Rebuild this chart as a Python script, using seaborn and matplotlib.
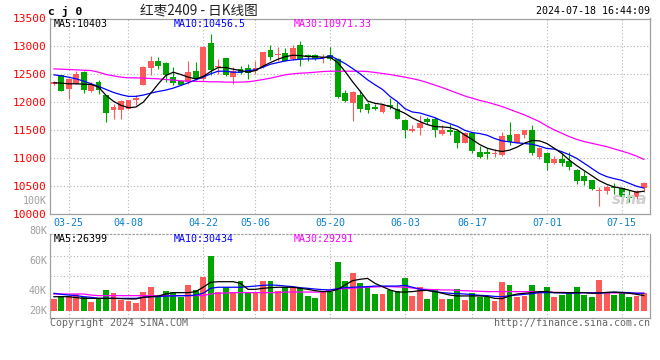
import matplotlib
matplotlib.use("Agg")
import matplotlib.pyplot as plt
import seaborn as sns
import numpy as np
import pandas as pd

# trading days 2024-03-21 .. 2024-07-18 (exchange holidays removed)
holidays = ['2024-04-04', '2024-04-05', '2024-05-01', '2024-05-02', '2024-05-03', '2024-06-10']
dates = [d for d in pd.bdate_range('2024-03-21', '2024-07-18') if d.strftime('%Y-%m-%d') not in holidays]
day_labels = [d.strftime('%m-%d') for d in dates]
tick_labels = ['03-25', '04-08', '04-22', '05-06', '05-20', '06-03', '06-17', '07-01', '07-15']

opens = np.array([12316, 12477, 12240, 12330, 12536, 12197, 12358, 12120, 11864, 11864,
                  11882, 12030, 12310, 12614, 12745, 12703, 12447, 12376, 12358, 12566,
                  12417, 13054, 12626, 12786, 12447, 12596, 12608, 12566, 12626, 12935,
                  12846, 12876, 12775, 13030, 12846, 12846, 12790, 12852, 12775, 12161,
                  11983, 12120, 11971, 11912, 11822, 11953, 11882, 11673, 11483, 11543,
                  11691, 11703, 11435, 11494, 11476, 11268, 11453, 11107, 11107, 11066,
                  11048, 11405, 11268, 11405, 11494, 11018, 11078, 10900, 10971, 10947,
                  10781, 10674, 10602, 10406, 10412, 10471, 10453, 10305, 10293, 10453])
closes = np.array([12358, 12197, 12417, 12507, 12221, 12328, 12209, 11804, 11911, 12013,
                   12030, 12072, 12638, 12745, 12644, 12477, 12340, 12310, 12548, 12417,
                   12995, 12578, 12655, 12477, 12566, 12525, 12525, 12608, 12894, 12804,
                   12864, 12745, 12971, 12775, 12804, 12775, 12810, 12775, 12090, 12013,
                   12179, 11882, 11852, 11870, 11941, 11912, 11691, 11507, 11513, 11626,
                   11644, 11495, 11494, 11465, 11268, 11447, 11125, 11018, 11060, 11090,
                   11387, 11286, 11423, 11494, 11090, 11167, 10899, 10971, 10900, 10828,
                   10590, 10590, 10442, 10424, 10483, 10453, 10305, 10275, 10406, 10543])
highs = np.array([12385, 12490, 12430, 12560, 12566, 12358, 12388, 12130, 11971, 12030,
                  12040, 12120, 12650, 12834, 12816, 12715, 12638, 12390, 12745, 12715,
                  13010, 13221, 12775, 12800, 12626, 12640, 12685, 12745, 12905, 13030,
                  12983, 12971, 13030, 13102, 12860, 12860, 12870, 12983, 12790, 12220,
                  12190, 12209, 12001, 11971, 11971, 12078, 12000, 11690, 11585, 11763,
                  11733, 11733, 11584, 11600, 11482, 11460, 11465, 11208, 11167, 11149,
                  11465, 11643, 11435, 11500, 11584, 11197, 11108, 11030, 11090, 11108,
                  10793, 10769, 10602, 10471, 10513, 10554, 10465, 10424, 10424, 10572])
lows = np.array([12300, 12190, 12050, 12320, 12161, 12180, 12138, 11644, 11703, 11703,
                 11870, 11941, 12300, 12477, 12596, 12358, 12298, 12300, 12328, 12400,
                 12405, 12477, 12507, 12465, 12316, 12500, 12417, 12507, 12615, 12757,
                 12745, 12735, 12757, 12655, 12745, 12760, 12700, 12757, 12080, 12001,
                 11661, 11822, 11805, 11852, 11805, 11882, 11691, 11358, 11465, 11406,
                 11614, 11376, 11405, 11405, 11167, 11260, 11078, 10990, 10970, 11018,
                 11030, 11226, 11260, 11363, 11048, 10970, 10780, 10895, 10858, 10781,
                 10530, 10513, 10424, 10138, 10352, 10352, 10245, 10215, 10185, 10394])

ma5 = [12346, 12340, 12328, 12328, 12322, 12316, 12269, 12120, 12013, 11941,
       11900, 11911, 12001, 12161, 12328, 12477, 12536, 12495, 12447, 12417,
       12459, 12548, 12620, 12620, 12590, 12566, 12536, 12566, 12644, 12709,
       12768, 12816, 12840, 12834, 12816, 12816, 12804, 12804, 12709, 12548,
       12364, 12197, 12019, 11977, 11959, 11918, 11858, 11799, 11715, 11650,
       11596, 11560, 11554, 11542, 11500, 11411, 11328, 11238, 11173, 11137,
       11113, 11137, 11191, 11262, 11310, 11304, 11256, 11170, 11078, 10959,
       10858, 10769, 10680, 10590, 10525, 10477, 10453, 10418, 10382, 10400]
ma10 = [12489, 12471, 12447, 12417, 12376, 12328, 12281, 12227, 12173, 12132,
        12102, 12102, 12126, 12161, 12191, 12215, 12251, 12298, 12346, 12400,
        12447, 12507, 12554, 12554, 12536, 12536, 12566, 12578, 12626, 12679,
        12709, 12739, 12757, 12769, 12775, 12775, 12786, 12834, 12763, 12691,
        12602, 12507, 12400, 12310, 12227, 12102, 12007, 11882, 11822, 11804,
        11763, 11721, 11661, 11613, 11566, 11494, 11453, 11435, 11405, 11346,
        11304, 11286, 11268, 11256, 11244, 11209, 11167, 11156, 11108, 11055,
        10989, 10900, 10810, 10721, 10662, 10626, 10596, 10543, 10489, 10456]
ma30 = [12596, 12590, 12584, 12578, 12572, 12566, 12536, 12495, 12471, 12447,
        12435, 12435, 12429, 12423, 12417, 12405, 12394, 12382, 12376, 12370,
        12370, 12364, 12364, 12358, 12358, 12358, 12364, 12382, 12405, 12429,
        12459, 12489, 12507, 12519, 12525, 12536, 12548, 12554, 12554, 12554,
        12554, 12554, 12548, 12531, 12513, 12495, 12471, 12447, 12420, 12390,
        12350, 12305, 12260, 12210, 12160, 12110, 12070, 12030, 12000, 11960,
        11920, 11870, 11820, 11770, 11710, 11650, 11570, 11500, 11440, 11380,
        11330, 11290, 11260, 11230, 11200, 11160, 11120, 11080, 11030, 10970]

# volume, thousands of lots
volume = np.array([34.5, 36.5, 36.7, 37.6, 36.0, 32.7, 34.2, 40.5, 38.7, 33.8,
                   33.4, 32.0, 39.1, 42.7, 37.1, 40.0, 39.4, 36.0, 43.8, 40.5,
                   49.4, 63.4, 39.4, 42.3, 39.4, 46.7, 38.3, 38.3, 46.7, 46.7,
                   40.0, 42.7, 42.3, 41.6, 36.5, 35.4, 40.0, 39.4, 59.4, 46.7,
                   52.0, 44.9, 42.7, 37.8, 37.8, 40.5, 40.0, 48.7, 36.7, 42.3,
                   34.5, 41.1, 34.5, 34.5, 40.9, 33.8, 38.3, 36.0, 36.0, 33.4,
                   46.0, 44.0, 36.0, 36.5, 44.0, 39.4, 42.7, 36.0, 37.1, 38.7,
                   42.7, 37.1, 36.0, 47.1, 38.7, 37.1, 38.3, 36.0, 36.7, 38.7])
vma5 = [36.0, 36.0, 36.0, 35.4, 34.9, 34.9, 34.9, 34.9, 34.9, 34.7,
        34.5, 34.5, 35.6, 36.0, 36.5, 37.8, 38.7, 38.7, 38.7, 39.4,
        42.3, 45.6, 46.0, 46.0, 46.0, 44.9, 40.9, 40.9, 41.6, 42.0,
        42.3, 42.3, 42.3, 41.6, 40.9, 40.0, 39.4, 39.4, 40.9, 43.8,
        46.7, 47.6, 48.2, 44.9, 42.7, 40.5, 39.1, 39.1, 39.4, 40.0,
        40.2, 39.4, 38.3, 37.1, 36.5, 36.5, 36.5, 36.5, 36.2, 34.9,
        34.7, 36.5, 37.8, 38.3, 38.7, 39.4, 39.4, 38.7, 38.7, 38.7,
        38.7, 38.7, 38.3, 38.5, 38.9, 39.1, 38.7, 38.3, 37.6, 36.7]
vma10 = [38.3, 37.6, 37.1, 36.7, 36.0, 35.6, 34.9, 34.9, 34.9, 34.9,
         34.9, 34.9, 35.6, 36.0, 36.0, 36.5, 36.5, 36.7, 36.7, 37.1,
         38.3, 41.6, 42.3, 42.3, 42.3, 42.3, 42.7, 43.1, 43.6, 43.8,
         43.6, 43.1, 42.7, 42.0, 41.6, 41.1, 40.7, 40.5, 41.4, 42.0,
         42.3, 42.5, 42.7, 43.1, 43.1, 43.1, 43.1, 43.6, 42.3, 41.1,
         40.2, 39.4, 38.7, 38.3, 38.0, 37.8, 37.4, 36.9, 36.7, 36.2,
         36.0, 36.7, 37.1, 37.6, 38.0, 38.7, 38.7, 38.7, 38.5, 38.3,
         38.5, 38.7, 38.5, 38.3, 38.7, 38.9, 38.9, 38.7, 38.3, 38.3]
vma30 = [37.8, 37.8, 37.8, 37.8, 37.8, 37.1, 36.7, 36.7, 36.7, 36.7,
         36.7, 36.7, 36.7, 36.7, 36.7, 36.7, 36.7, 36.7, 36.7, 36.7,
         36.7, 37.8, 38.3, 38.5, 38.7, 38.7, 38.7, 38.7, 38.7, 38.7,
         38.7, 39.1, 39.1, 39.1, 39.1, 39.1, 39.1, 40.5, 40.9, 41.4,
         41.6, 42.0, 42.3, 42.5, 42.7, 42.7, 42.5, 42.3, 41.8, 41.1,
         40.9, 40.7, 40.5, 40.5, 40.2, 40.0, 39.8, 39.6, 39.4, 39.4,
         39.4, 39.4, 39.4, 39.4, 39.4, 39.1, 39.1, 38.9, 38.9, 38.7,
         38.7, 38.7, 38.7, 38.7, 38.7, 38.5, 38.5, 38.3, 38.3, 38.3]

price_ticks = list(range(10000, 13501, 500))
vol_labels = ['100K', '80K', '60K', '40K']
vol_label_vals = [100, 80, 60, 40]

RED = '#ff5a5a'
GREEN = '#00a400'
GRID = '#b4b4b4'
FRAME = '#a0a0a0'

sns.set_style('white')
plt.rcParams['font.family'] = ['DejaVu Sans Mono']

W, H = 660, 360
fig = plt.figure(figsize=(W / 100, H / 100), dpi=100)


def box(l, t, r, b):
    return [l / W, 1 - b / H, (r - l) / W, (b - t) / H]


def ftext(x, y, s, **kw):
    kw.setdefault('va', 'center')
    fig.text(x / W, 1 - y / H, s, **kw)


ax = fig.add_axes(box(50, 18.5, 650, 213.5))
axv = fig.add_axes(box(50, 234, 650, 318))

x = np.arange(len(dates))
tick_idx = [day_labels.index(t) for t in tick_labels]
colors = np.where(closes > opens, RED, GREEN)

# candles
ax.vlines(x, lows, highs, colors=colors, lw=0.8, zorder=2)
body_lo = np.minimum(opens, closes)
body_h = np.maximum(np.abs(closes - opens), 8)
ax.bar(x, body_h, bottom=body_lo, width=0.78, color=colors, lw=0, zorder=3)

sns.lineplot(x=x, y=ma30, ax=ax, color='#ff00ff', lw=0.9, zorder=4)
sns.lineplot(x=x, y=ma10, ax=ax, color='#0000ff', lw=0.9, zorder=4)
sns.lineplot(x=x, y=ma5, ax=ax, color='black', lw=0.9, zorder=5)

ax.set_xlim(-0.5, 79.8)
ax.set_ylim(10000, 13500)
ax.set_yticks(price_ticks)
ax.set_yticklabels([str(v) for v in price_ticks])
ax.set_xticks(tick_idx)
ax.set_xticklabels(tick_labels)
ax.tick_params(axis='y', labelcolor='#ff0000', labelsize=8, length=0, pad=2.2)
ax.tick_params(axis='x', labelcolor='#0a80d0', labelsize=7.2, length=0, pad=3.2)
ax.grid(True, ls=(0, (1, 2)), color=GRID, lw=0.8)
ax.set_xlabel('')
ax.set_ylabel('')

# volume
vol_floor = 26.5
axv.bar(x, volume - vol_floor, bottom=vol_floor, width=0.78, color=colors, lw=0, zorder=3)
sns.lineplot(x=x, y=vma30, ax=axv, color='#ff00ff', lw=0.9, zorder=4)
sns.lineplot(x=x, y=vma10, ax=axv, color='#0000ff', lw=0.9, zorder=4)
sns.lineplot(x=x, y=vma5, ax=axv, color='black', lw=0.9, zorder=5)
axv.set_xlim(-0.5, 79.8)
axv.set_ylim(21.8, 77.8)
axv.set_xticks(tick_idx)
axv.set_yticks([50.0, 63.3])
axv.tick_params(labelbottom=False, labelleft=False, length=0)
axv.grid(True, ls=(0, (1, 2)), color=GRID, lw=0.8)
axv.set_xlabel('')
axv.set_ylabel('')
tr = axv.get_yaxis_transform()
for lab, v in zip(vol_labels, vol_label_vals):
    axv.text(-0.005, v, lab, transform=tr, ha='right', va='center', fontsize=7.2,
             color='#a0a0a0', clip_on=False)
axv.text(-0.005, vol_floor, '20K', transform=tr, ha='right', va='center', fontsize=7.2,
         color='#a0a0a0', clip_on=False)

for a in (ax, axv):
    for s in a.spines.values():
        s.set_color(FRAME)
        s.set_linewidth(0.9)
axv.spines['top'].set_linestyle((0, (1, 2)))

# header texts
ftext(48, 11, 'c j 0', fontsize=8.2, fontweight='bold', color='black')
ftext(140, 10, '红枣2409 - 日K线图', fontsize=9.8, color='#222222',
      family=['Noto Sans CJK SC', 'DejaVu Sans'])
ftext(650, 11.5, '2024-07-18 16:44:09', fontsize=7.2, color='black', ha='right')
ftext(54, 24, 'MA5:10403', fontsize=7.2, color='black')
ftext(174, 24, 'MA10:10456.5', fontsize=7.2, color='#0000ff')
ftext(294, 24, 'MA30:10971.33', fontsize=7.2, color='#ff00ff')
ftext(54, 239.5, 'MA5:26399', fontsize=7.2, color='black')
ftext(174, 239.5, 'MA10:30434', fontsize=7.2, color='#0000ff')
ftext(294, 239.5, 'MA30:29291', fontsize=7.2, color='#ff00ff')
ftext(50, 323.5, 'Copyright 2024 SINA.COM', fontsize=7.2, color='#666666')
ftext(650, 323.5, 'http://finance.sina.com.cn', fontsize=7.2, color='#666666', ha='right')
ftext(630, 199, 'sina', fontsize=11, fontweight='bold', style='italic', color='#d0d0d0',
      ha='center', family='DejaVu Sans')

fig.savefig('out.png', dpi=100)
plt.close(fig)
